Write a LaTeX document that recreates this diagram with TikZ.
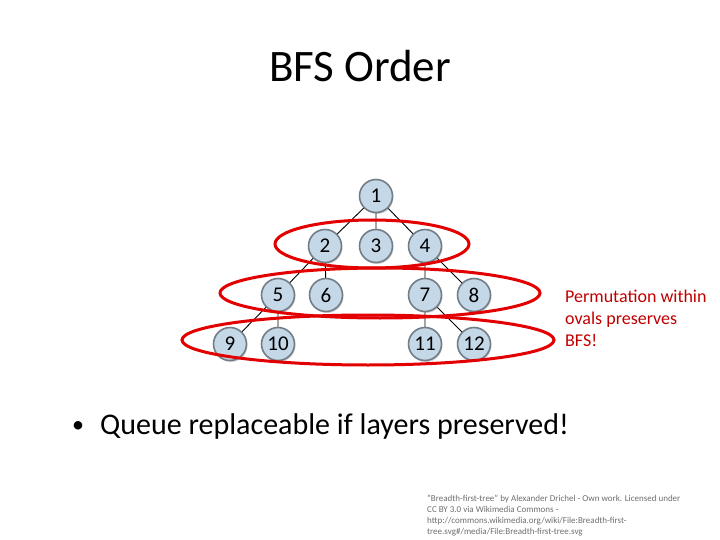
\documentclass[tikz,border=0pt]{standalone}
\usepackage{fontspec}
\setmainfont{Carlito}
\usetikzlibrary{shadows}
\definecolor{nodefill}{RGB}{197,216,232}
\definecolor{nodeedge}{RGB}{115,125,135}
\definecolor{ovalred}{RGB}{226,0,0}
\definecolor{notered}{RGB}{192,0,0}
\definecolor{credit}{RGB}{110,110,110}
\tikzset{
  treenode/.style={circle, minimum size=33pt, inner sep=0pt, fill=nodefill, draw=nodeedge, line width=1.6pt,
    font=\fontsize{21}{21}\selectfont, drop shadow={shadow xshift=1pt, shadow yshift=-1.5pt, opacity=0.35}},
  treeedge/.style={draw=black, line width=0.9pt},
  oval/.style={draw=ovalred, line width=3pt},
}
\begin{document}
\begin{tikzpicture}[x=1pt,y=-1pt]
\useasboundingbox (0,0) rectangle (720,540);
\node[font=\fontsize{45}{45}\selectfont] (title) at (360,66) {BFS Order};
% edges first
\coordinate (c1) at (376,196);
\coordinate (c2) at (325,246);
\coordinate (c3) at (376,246);
\coordinate (c4) at (425,246);
\coordinate (c5) at (278,295);
\coordinate (c6) at (326,295);
\coordinate (c7) at (425,295);
\coordinate (c8) at (474,295);
\coordinate (c9) at (230,344);
\coordinate (c10) at (278,344);
\coordinate (c11) at (425,344);
\coordinate (c12) at (474,344);
\path[treeedge] (c1) -- (c2) (c1) -- (c3) (c1) -- (c4)
  (c2) -- (c5) (c2) -- (c6) (c4) -- (c7) (c4) -- (c8)
  (c5) -- (c9) (c5) -- (c10) (c7) -- (c11) (c7) -- (c12);
\foreach \i in {1,...,12} {
  \node[treenode] (n\i) at (c\i) {\i};
}
% ovals
\draw[oval] (372,244) ellipse [x radius=97, y radius=24];
\draw[oval] (380,293) ellipse [x radius=160, y radius=25];
\draw[oval] (368,340) ellipse [x radius=186, y radius=25];
% note
\node[anchor=north west, align=left, text=notered, font=\fontsize{18}{22}\selectfont, inner sep=0pt] (note) at (565,290)
  {Permutation within\\ovals preserves\\BFS!};
% bullet
\node[anchor=west, font=\fontsize{24}{24}\selectfont, inner sep=0pt] (bul) at (72,427) {\textbullet};
\node[anchor=west, font=\fontsize{30}{30}\selectfont, inner sep=0pt] (queue) at (100,426) {Queue replaceable if layers preserved!};
% credit
\node[anchor=north west, align=left, text=credit, font=\fontsize{9}{11}\selectfont, inner sep=0pt] (cred) at (427,495)
  {"Breadth-first-tree" by Alexander Drichel - Own work. Licensed under\\CC BY 3.0 via Wikimedia Commons -\\http://commons.wikimedia.org/wiki/File:Breadth-first-\\tree.svg\#/media/File:Breadth-first-tree.svg};
\end{tikzpicture}
\end{document}
